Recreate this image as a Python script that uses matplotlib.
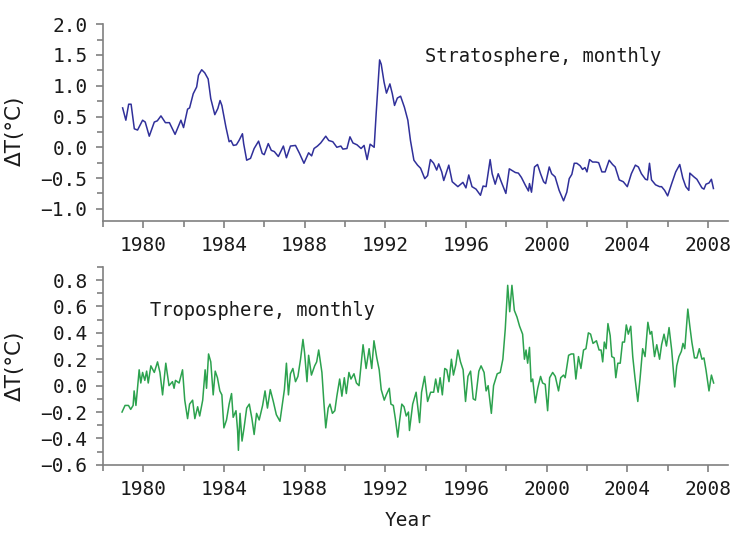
import matplotlib
matplotlib.use("Agg")
import matplotlib.pyplot as plt
from matplotlib.ticker import MultipleLocator

# values
strat_year = [
    1978.98, 1979.14, 1979.28, 1979.40, 1979.56, 1979.72, 1979.97, 1980.10, 1980.30, 1980.55,
    1980.70, 1980.88, 1981.10, 1981.30, 1981.58, 1981.87, 1982.00, 1982.20, 1982.30, 1982.48,
    1982.65, 1982.74, 1982.90, 1983.05, 1983.22, 1983.35, 1983.55, 1983.70, 1983.81, 1983.90,
    1984.10, 1984.26, 1984.35, 1984.47, 1984.62, 1984.75, 1984.92, 1984.98, 1985.13, 1985.32,
    1985.50, 1985.72, 1985.90, 1986.00, 1986.20, 1986.35, 1986.50, 1986.70, 1986.95, 1987.10,
    1987.30, 1987.55, 1987.75, 1987.97, 1988.20, 1988.35, 1988.47, 1988.64, 1988.80, 1989.05,
    1989.20, 1989.40, 1989.60, 1989.80, 1989.90, 1990.10, 1990.25, 1990.40, 1990.60, 1990.80,
    1990.95, 1991.10, 1991.25, 1991.45, 1991.55, 1991.72, 1991.80, 1991.94, 1992.06, 1992.23,
    1992.35, 1992.46, 1992.60, 1992.76, 1992.95, 1993.12, 1993.25, 1993.42, 1993.60, 1993.75,
    1993.96, 1994.10, 1994.24, 1994.40, 1994.55, 1994.65, 1994.80, 1994.90, 1995.15, 1995.32,
    1995.60, 1995.85, 1996.00, 1996.14, 1996.30, 1996.50, 1996.72, 1996.85, 1997.00, 1997.20,
    1997.30, 1997.45, 1997.60, 1997.75, 1997.98, 1998.15, 1998.30, 1998.45, 1998.60, 1998.75,
    1998.95, 1999.10, 1999.15, 1999.25, 1999.40, 1999.55, 1999.70, 1999.85, 1999.95, 2000.13,
    2000.25, 2000.42, 2000.62, 2000.84, 2001.00, 2001.12, 2001.25, 2001.37, 2001.50, 2001.66,
    2001.78, 2001.90, 2002.00, 2002.13, 2002.28, 2002.45, 2002.58, 2002.74, 2002.90, 2003.10,
    2003.27, 2003.40, 2003.60, 2003.80, 2004.00, 2004.20, 2004.40, 2004.55, 2004.70, 2004.90,
    2005.00, 2005.10, 2005.20, 2005.40, 2005.60, 2005.70, 2005.85, 2006.00, 2006.20, 2006.40,
    2006.60, 2006.75, 2006.90, 2007.05, 2007.10, 2007.30, 2007.45, 2007.70, 2007.80, 2007.90,
    2008.05, 2008.17, 2008.27,
]
strat_dt = [
    0.64, 0.44, 0.70, 0.70, 0.30, 0.28, 0.44, 0.41, 0.18, 0.41,
    0.43, 0.51, 0.40, 0.40, 0.21, 0.44, 0.32, 0.62, 0.64, 0.87,
    0.98, 1.17, 1.26, 1.21, 1.11, 0.79, 0.53, 0.63, 0.76, 0.68,
    0.33, 0.09, 0.11, 0.03, 0.04, 0.11, 0.22, 0.06, -0.21, -0.18,
    -0.02, 0.10, -0.10, -0.12, 0.06, -0.05, -0.07, -0.15, 0.02, -0.17,
    0.02, 0.03, -0.10, -0.26, -0.09, -0.14, -0.02, 0.02, 0.07, 0.18,
    0.11, 0.09, 0.00, 0.02, -0.03, -0.02, 0.17, 0.07, 0.04, -0.02,
    0.03, -0.20, 0.05, 0.00, 0.55, 1.42, 1.35, 1.06, 0.88, 1.03,
    0.87, 0.68, 0.80, 0.83, 0.65, 0.44, 0.11, -0.21, -0.29, -0.34,
    -0.51, -0.46, -0.20, -0.26, -0.37, -0.27, -0.40, -0.54, -0.29, -0.56,
    -0.64, -0.57, -0.66, -0.45, -0.64, -0.68, -0.78, -0.63, -0.64, -0.20,
    -0.43, -0.60, -0.43, -0.56, -0.75, -0.35, -0.38, -0.41, -0.42, -0.49,
    -0.62, -0.71, -0.59, -0.73, -0.32, -0.28, -0.43, -0.56, -0.59, -0.32,
    -0.43, -0.48, -0.70, -0.87, -0.73, -0.51, -0.44, -0.26, -0.26, -0.30,
    -0.36, -0.33, -0.40, -0.20, -0.24, -0.24, -0.25, -0.40, -0.40, -0.21,
    -0.28, -0.32, -0.53, -0.56, -0.64, -0.43, -0.29, -0.32, -0.43, -0.52,
    -0.53, -0.26, -0.53, -0.61, -0.64, -0.64, -0.70, -0.79, -0.59, -0.40,
    -0.28, -0.50, -0.64, -0.70, -0.42, -0.48, -0.52, -0.66, -0.68, -0.60,
    -0.58, -0.52, -0.67,
]

trop_year = [
    1978.95, 1979.10, 1979.27, 1979.38, 1979.50, 1979.55, 1979.64, 1979.80, 1979.88, 1979.97,
    1980.08, 1980.17, 1980.25, 1980.38, 1980.55, 1980.71, 1980.83, 1980.96, 1981.12, 1981.28,
    1981.45, 1981.53, 1981.60, 1981.78, 1981.95, 1982.06, 1982.20, 1982.30, 1982.45, 1982.56,
    1982.70, 1982.80, 1982.95, 1983.07, 1983.14, 1983.24, 1983.35, 1983.47, 1983.57, 1983.68,
    1983.80, 1983.90, 1984.00, 1984.13, 1984.26, 1984.38, 1984.46, 1984.60, 1984.68, 1984.72,
    1984.80, 1984.90, 1985.00, 1985.13, 1985.26, 1985.39, 1985.50, 1985.62, 1985.75, 1985.92,
    1986.04, 1986.16, 1986.30, 1986.45, 1986.60, 1986.78, 1986.90, 1987.00, 1987.10, 1987.20,
    1987.30, 1987.42, 1987.55, 1987.67, 1987.80, 1987.92, 1988.00, 1988.12, 1988.20, 1988.34,
    1988.50, 1988.60, 1988.70, 1988.86, 1988.95, 1989.05, 1989.17, 1989.26, 1989.38, 1989.50,
    1989.60, 1989.74, 1989.85, 1989.97, 1990.07, 1990.20, 1990.30, 1990.45, 1990.57, 1990.70,
    1990.90, 1991.05, 1991.20, 1991.33, 1991.44, 1991.58, 1991.70, 1991.80, 1991.95, 1992.05,
    1992.20, 1992.28, 1992.40, 1992.50, 1992.62, 1992.70, 1992.82, 1992.93, 1993.04, 1993.15,
    1993.20, 1993.36, 1993.53, 1993.70, 1993.80, 1993.95, 1994.10, 1994.25, 1994.40, 1994.50,
    1994.62, 1994.72, 1994.83, 1994.95, 1995.05, 1995.16, 1995.28, 1995.38, 1995.50, 1995.60,
    1995.73, 1995.86, 1995.98, 1996.10, 1996.23, 1996.36, 1996.47, 1996.64, 1996.75, 1996.90,
    1997.00, 1997.10, 1997.26, 1997.37, 1997.55, 1997.70, 1997.83, 1997.95, 1998.07, 1998.17,
    1998.28, 1998.40, 1998.53, 1998.66, 1998.81, 1998.90, 1998.98, 1999.06, 1999.15, 1999.23,
    1999.31, 1999.44, 1999.56, 1999.70, 1999.80, 1999.93, 2000.05, 2000.15, 2000.30, 2000.43,
    2000.59, 2000.70, 2000.84, 2000.92, 2001.09, 2001.22, 2001.34, 2001.45, 2001.58, 2001.70,
    2001.83, 2001.95, 2002.07, 2002.18, 2002.30, 2002.47, 2002.60, 2002.70, 2002.78, 2002.86,
    2002.95, 2003.04, 2003.15, 2003.23, 2003.35, 2003.43, 2003.53, 2003.65, 2003.76, 2003.86,
    2003.95, 2004.05, 2004.17, 2004.27, 2004.38, 2004.52, 2004.63, 2004.76, 2004.88, 2005.02,
    2005.13, 2005.21, 2005.35, 2005.46, 2005.60, 2005.70, 2005.82, 2005.94, 2006.07, 2006.20,
    2006.35, 2006.45, 2006.56, 2006.68, 2006.76, 2006.85, 2007.00, 2007.10, 2007.20, 2007.33,
    2007.45, 2007.57, 2007.70, 2007.80, 2007.90, 2008.05, 2008.17, 2008.28,
]
trop_dt = [
    -0.20, -0.15, -0.15, -0.18, -0.15, -0.04, -0.15, 0.12, 0.02, 0.10,
    0.04, 0.11, 0.02, 0.15, 0.10, 0.18, 0.10, -0.07, 0.17, 0.00,
    0.03, -0.02, 0.04, 0.02, 0.12, -0.11, -0.25, -0.14, -0.11, -0.25,
    -0.16, -0.23, -0.11, 0.12, -0.02, 0.24, 0.18, -0.07, 0.11, 0.06,
    -0.04, -0.07, -0.32, -0.26, -0.14, -0.06, -0.24, -0.19, -0.34, -0.49,
    -0.21, -0.42, -0.32, -0.17, -0.14, -0.25, -0.37, -0.21, -0.26, -0.15,
    -0.04, -0.17, -0.03, -0.12, -0.22, -0.27, -0.14, -0.03, 0.17, -0.07,
    0.09, 0.13, 0.03, 0.07, 0.20, 0.35, 0.25, 0.03, 0.23, 0.08,
    0.15, 0.18, 0.27, 0.10, -0.11, -0.32, -0.17, -0.14, -0.21, -0.19,
    -0.08, 0.05, -0.08, 0.06, -0.06, 0.10, 0.05, 0.09, 0.02, 0.00,
    0.31, 0.13, 0.28, 0.13, 0.34, 0.21, 0.12, -0.03, -0.11, -0.07,
    -0.02, -0.14, -0.15, -0.25, -0.39, -0.28, -0.14, -0.16, -0.23, -0.20,
    -0.34, -0.14, -0.05, -0.28, -0.05, 0.07, -0.12, -0.05, -0.05, 0.05,
    -0.05, 0.06, -0.07, 0.13, 0.12, 0.03, 0.20, 0.08, 0.16, 0.27,
    0.18, 0.12, -0.12, 0.07, 0.11, -0.10, -0.11, 0.11, 0.15, 0.10,
    -0.04, 0.00, -0.21, 0.00, 0.09, 0.10, 0.20, 0.43, 0.76, 0.56,
    0.76, 0.57, 0.52, 0.45, 0.39, 0.20, 0.27, 0.17, 0.29, 0.03,
    0.05, -0.13, -0.02, 0.07, 0.02, 0.01, -0.19, 0.06, 0.10, 0.07,
    -0.04, 0.06, 0.08, 0.06, 0.23, 0.24, 0.24, 0.05, 0.22, 0.13,
    0.27, 0.28, 0.40, 0.39, 0.32, 0.34, 0.27, 0.27, 0.18, 0.33,
    0.28, 0.47, 0.38, 0.22, 0.21, 0.06, 0.17, 0.17, 0.33, 0.33,
    0.46, 0.39, 0.45, 0.22, 0.06, -0.12, 0.05, 0.28, 0.22, 0.48,
    0.39, 0.41, 0.22, 0.31, 0.20, 0.31, 0.39, 0.30, 0.44, 0.27,
    -0.01, 0.15, 0.22, 0.26, 0.32, 0.28, 0.58, 0.45, 0.33, 0.21,
    0.21, 0.28, 0.20, 0.21, 0.12, -0.04, 0.08, 0.02,
]

mono = "DejaVu Sans Mono"
spine_col = "#808080"

fig = plt.figure(figsize=(7.4, 5.38), dpi=100)
ax1 = fig.add_axes([0.139, 0.589, 0.845, 0.366])
ax2 = fig.add_axes([0.139, 0.136, 0.845, 0.368])

ax1.plot(strat_year, strat_dt, color="#30309a", linewidth=1.1)
ax2.plot(trop_year, trop_dt, color="#2ca24e", linewidth=1.1)

ax1.set_ylim(-1.2, 2.0)
ax1.yaxis.set_major_locator(MultipleLocator(0.5))
ax1.yaxis.set_minor_locator(MultipleLocator(0.25))
ax2.set_ylim(-0.6, 0.9)
ax2.yaxis.set_major_locator(MultipleLocator(0.2))
ax2.yaxis.set_minor_locator(MultipleLocator(0.1))

for ax in (ax1, ax2):
    ax.set_xlim(1978.0, 2009.0)
    ax.xaxis.set_major_locator(MultipleLocator(4))
    ax.xaxis.set_minor_locator(MultipleLocator(2))
    ax.set_xticks([1980, 1984, 1988, 1992, 1996, 2000, 2004, 2008])
    ax.spines["top"].set_visible(False)
    ax.spines["right"].set_visible(False)
    for s in ("left", "bottom"):
        ax.spines[s].set_color(spine_col)
        ax.spines[s].set_linewidth(1.2)
    ax.tick_params(which="major", direction="out", length=5, width=1.2,
                   color=spine_col, labelsize=14, labelcolor="#1a1a1a", pad=6)
    ax.tick_params(which="minor", direction="out", length=4, width=1.2, color=spine_col)
    for lab in ax.get_xticklabels() + ax.get_yticklabels():
        lab.set_family(mono)
    ax.set_ylabel("ΔT(°C)", fontsize=15.5, color="#1a1a1a")
    ax.yaxis.set_label_coords(-0.125, 0.5)

ax1.yaxis.set_label_coords(-0.125, 0.46)
ax1.set_yticks([-1.0, -0.5, 0.0, 0.5, 1.0, 1.5, 2.0])
ax1.set_yticklabels(["\u22121.0", "\u22120.5", "0.0", "0.5", "1.0", "1.5", "2.0"], family=mono)
ax2.set_yticks([-0.6, -0.4, -0.2, 0.0, 0.2, 0.4, 0.6, 0.8])
ax2.set_yticklabels(["\u22120.6", "\u22120.4", "\u22120.2", "0.0", "0.2", "0.4", "0.6", "0.8"], family=mono)

ax1.text(0.515, 0.807, "Stratosphere, monthly", transform=ax1.transAxes,
         family=mono, fontsize=13.5, color="#1a1a1a", va="baseline", ha="left")
ax2.text(0.075, 0.753, "Troposphere, monthly", transform=ax2.transAxes,
         family=mono, fontsize=13.5, color="#1a1a1a", va="baseline", ha="left")

ax2.set_xlabel("Year", family=mono, fontsize=14, color="#1a1a1a")
ax2.xaxis.set_label_coords(0.488, -0.235)

fig.savefig("out.png", dpi=100)
